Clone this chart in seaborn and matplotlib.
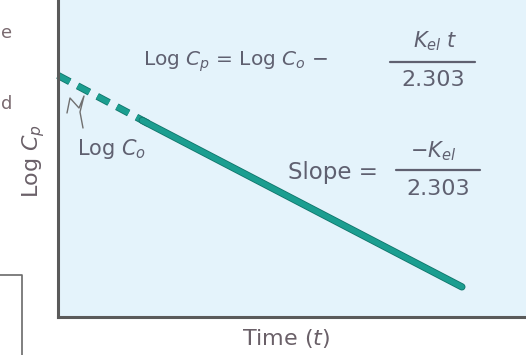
import matplotlib
matplotlib.use("Agg")
import matplotlib.pyplot as plt
import matplotlib.patheffects as pe
from matplotlib.lines import Line2D
import seaborn as sns
import pandas as pd

# ---- data ----
dashed_time = [0.0, 2.0]
dashed_logc = [7.62, 6.05]
solid_time = [1.8, 8.63]
solid_logc = [6.20, 0.95]

x_label = "Time ($t$)"
y_label = "Log $C_p$"

W, H = 526, 355
sns.set_theme(style="white")
plt.rcParams['font.family'] = ['DejaVu Sans']

fig = plt.figure(figsize=(W / 100, H / 100), dpi=100)
fig.patch.set_facecolor("white")

def px(x, y):
    return (x / W, 1 - y / H)

ax = fig.add_axes([58 / W, 38 / H, 1 - 58 / W, 1 - 38 / H])
ax.set_facecolor("#e4f3fb")
ax.set_xlim(0, 10)
ax.set_ylim(0, 10)
ax.set_xticks([])
ax.set_yticks([])
for s in ["top", "right"]:
    ax.spines[s].set_visible(False)
for s in ["left", "bottom"]:
    ax.spines[s].set_color("#5a5a5a")
    ax.spines[s].set_linewidth(2.2)

teal = "#1b9e90"
stroke = [pe.Stroke(linewidth=5.2, foreground="#11756b"), pe.Normal()]

df_d = pd.DataFrame({"t": dashed_time, "c": dashed_logc})
df_s = pd.DataFrame({"t": solid_time, "c": solid_logc})
sns.lineplot(data=df_d, x="t", y="c", ax=ax, color=teal, linewidth=4.0,
             linestyle=(0, (2.4, 1.6)), sort=False, estimator=None,
             path_effects=stroke, clip_on=False)
sns.lineplot(data=df_s, x="t", y="c", ax=ax, color=teal, linewidth=4.0,
             sort=False, estimator=None, path_effects=stroke,
             solid_capstyle="round")
ax.set_xlabel("")
ax.set_ylabel("")

tc = "#5f6070"
lc = "#6a6068"
# axis labels
fig.text(*px(286, 339), x_label, ha="center", va="center", fontsize=16, color=lc)
fig.text(*px(34, 161), y_label, ha="center", va="center", rotation=90, fontsize=16, color=lc)

# equation 1
fig.text(*px(143, 62), "Log $C_p$ = Log $C_o$ \u2212", ha="left", va="center",
         fontsize=14.5, color=tc)
fig.text(*px(435, 41), "$K_{el}$ $t$", ha="center", va="center", fontsize=15, color=tc)
fig.add_artist(Line2D([px(390, 62)[0], px(475, 62)[0]], [px(390, 62)[1], px(475, 62)[1]],
                      color=tc, lw=1.6))
fig.text(*px(433, 80), "2.303", ha="center", va="center", fontsize=16, color=tc)

# equation 2
fig.text(*px(333, 172), "Slope =", ha="center", va="center", fontsize=16.5, color=tc)
fig.text(*px(433, 151), "\u2212$K_{el}$", ha="center", va="center", fontsize=15, color=tc)
fig.add_artist(Line2D([px(396, 170)[0], px(480, 170)[0]], [px(396, 170)[1], px(480, 170)[1]],
                      color=tc, lw=1.6))
fig.text(*px(438, 189), "2.303", ha="center", va="center", fontsize=16, color=tc)

# Log Co label + pointer
fig.text(*px(112, 149), "Log $C_o$", ha="center", va="center", fontsize=15, color=tc)
pts = [(67, 113), (70, 98), (79, 108), (84, 96), (80, 112), (83, 128)]
fig.add_artist(Line2D([p[0] / W for p in pts], [1 - p[1] / H for p in pts],
                      color="#707070", lw=1.0))

# fragments of the neighbouring panel
fig.text(*px(7, 33), "e", ha="center", va="center", fontsize=13, color="#7a6a70")
fig.text(*px(7, 104), "d", ha="center", va="center", fontsize=13, color="#7a6a70")
fig.add_artist(Line2D([0, 22 / W, 22 / W], [1 - 275 / H, 1 - 275 / H, 0],
                      color="#6a6a6a", lw=1.2))

fig.savefig("out.png", dpi=100)
